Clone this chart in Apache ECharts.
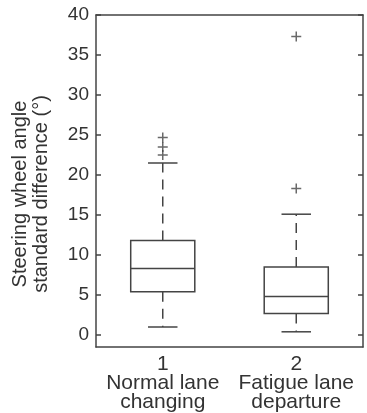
<!DOCTYPE html>
<html>
<head>
<meta charset="utf-8">
<script src="https://cdn.jsdelivr.net/npm/echarts@6/dist/echarts.min.js"></script>
<style>
    html, body { margin: 0; padding: 0; background: #fff; }
    #chart { width: 367px; height: 413px; }
</style>
</head>
<body>
<div id="chart"></div>
<script>
    // groups on the x axis
    const categories = ['1\nNormal lane\nchanging', '2\nFatigue lane\ndeparture'];
    // [lower whisker, q1, median, q3, upper whisker]
    const boxStats = [
        [1.0, 5.4, 8.3, 11.8, 21.5],
        [0.4, 2.7, 4.8, 8.5, 15.1]
    ];
    // outliers as [group index, value]
    const outliers = [
        [0, 24.7], [0, 23.5], [0, 22.5],
        [1, 37.3], [1, 18.3]
    ];
    const yTicks = [0, 5, 10, 15, 20, 25, 30, 35, 40];

    const lineColor = '#444';
    const textColor = '#333';
    const chart = echarts.init(document.getElementById('chart'));

    function renderBox(params, api) {
        const idx = api.value(0);
        const lo = api.coord([idx, api.value(1)]);
        const q1 = api.coord([idx, api.value(2)]);
        const med = api.coord([idx, api.value(3)]);
        const q3 = api.coord([idx, api.value(4)]);
        const hi = api.coord([idx, api.value(5)]);
        const band = api.size([1, 0])[0];
        const bw = band * 0.48;
        const cw = bw * 0.46;
        const cx = lo[0];
        const solid = { stroke: lineColor, lineWidth: 1.5, fill: null };
        const dashed = { stroke: lineColor, lineWidth: 1.5, lineDash: [10, 7] };
        return {
            type: 'group',
            children: [
                { type: 'rect', shape: { x: cx - bw / 2, y: q3[1], width: bw, height: q1[1] - q3[1] }, style: solid },
                { type: 'line', shape: { x1: cx - bw / 2, y1: med[1], x2: cx + bw / 2, y2: med[1] }, style: solid },
                { type: 'line', shape: { x1: cx, y1: q3[1], x2: cx, y2: hi[1] }, style: dashed },
                { type: 'line', shape: { x1: cx, y1: q1[1], x2: cx, y2: lo[1] }, style: dashed },
                { type: 'line', shape: { x1: cx - cw / 2, y1: hi[1], x2: cx + cw / 2, y2: hi[1] }, style: solid },
                { type: 'line', shape: { x1: cx - cw / 2, y1: lo[1], x2: cx + cw / 2, y2: lo[1] }, style: solid }
            ]
        };
    }

    const option = {
        animation: false,
        grid: { left: 96, right: 4, top: 15, bottom: 66 },
        xAxis: [
            {
                type: 'category',
                data: categories,
                axisLine: { onZero: false, lineStyle: { color: lineColor, width: 1.5 } },
                axisTick: { show: false },
                axisLabel: {
                    interval: 0,
                    color: textColor,
                    fontFamily: 'Liberation Sans, Arial, sans-serif',
                    fontSize: 21,
                    lineHeight: 19,
                    margin: 8
                }
            },
            {
                type: 'category',
                position: 'top',
                data: categories,
                axisLine: { onZero: false, lineStyle: { color: lineColor, width: 1.5 } },
                axisTick: { show: false },
                axisLabel: { show: false }
            }
        ],
        yAxis: [
            {
                type: 'value',
                min: -1.5,
                max: 40,
                axisLine: { show: true, onZero: false, lineStyle: { color: lineColor, width: 1.5 } },
                axisTick: { show: true, inside: true, length: 5, customValues: yTicks, lineStyle: { color: lineColor, width: 1.5 } },
                axisLabel: {
                    customValues: yTicks,
                    color: textColor,
                    fontFamily: 'Liberation Sans, Arial, sans-serif',
                    fontSize: 19,
                    margin: 7
                },
                splitLine: { show: false }
            },
            {
                type: 'value',
                position: 'right',
                min: -1.5,
                max: 40,
                axisLine: { show: true, onZero: false, lineStyle: { color: lineColor, width: 1.5 } },
                axisTick: { show: true, inside: true, length: 5, customValues: yTicks, lineStyle: { color: lineColor, width: 1.5 } },
                axisLabel: { show: false },
                splitLine: { show: false }
            }
        ],
        graphic: [
            {
                type: 'text',
                x: 31,
                y: 194,
                rotation: Math.PI / 2,
                style: {
                    text: 'Steering wheel angle\nstandard difference (°)',
                    fill: textColor,
                    font: '20px Liberation Sans, Arial, sans-serif',
                    lineHeight: 21,
                    align: 'center',
                    verticalAlign: 'middle'
                }
            }
        ],
        series: [
            {
                type: 'custom',
                xAxisIndex: 0,
                yAxisIndex: 0,
                renderItem: renderBox,
                data: boxStats.map((s, i) => [i].concat(s))
            },
            {
                type: 'scatter',
                xAxisIndex: 0,
                yAxisIndex: 0,
                symbol: 'path://M3.4,0H4.6V3.4H8V4.6H4.6V8H3.4V4.6H0V3.4H3.4Z',
                symbolSize: 10,
                itemStyle: { color: lineColor },
                data: outliers
            }
        ]
    };

    chart.setOption(option);
</script>
</body>
</html>
